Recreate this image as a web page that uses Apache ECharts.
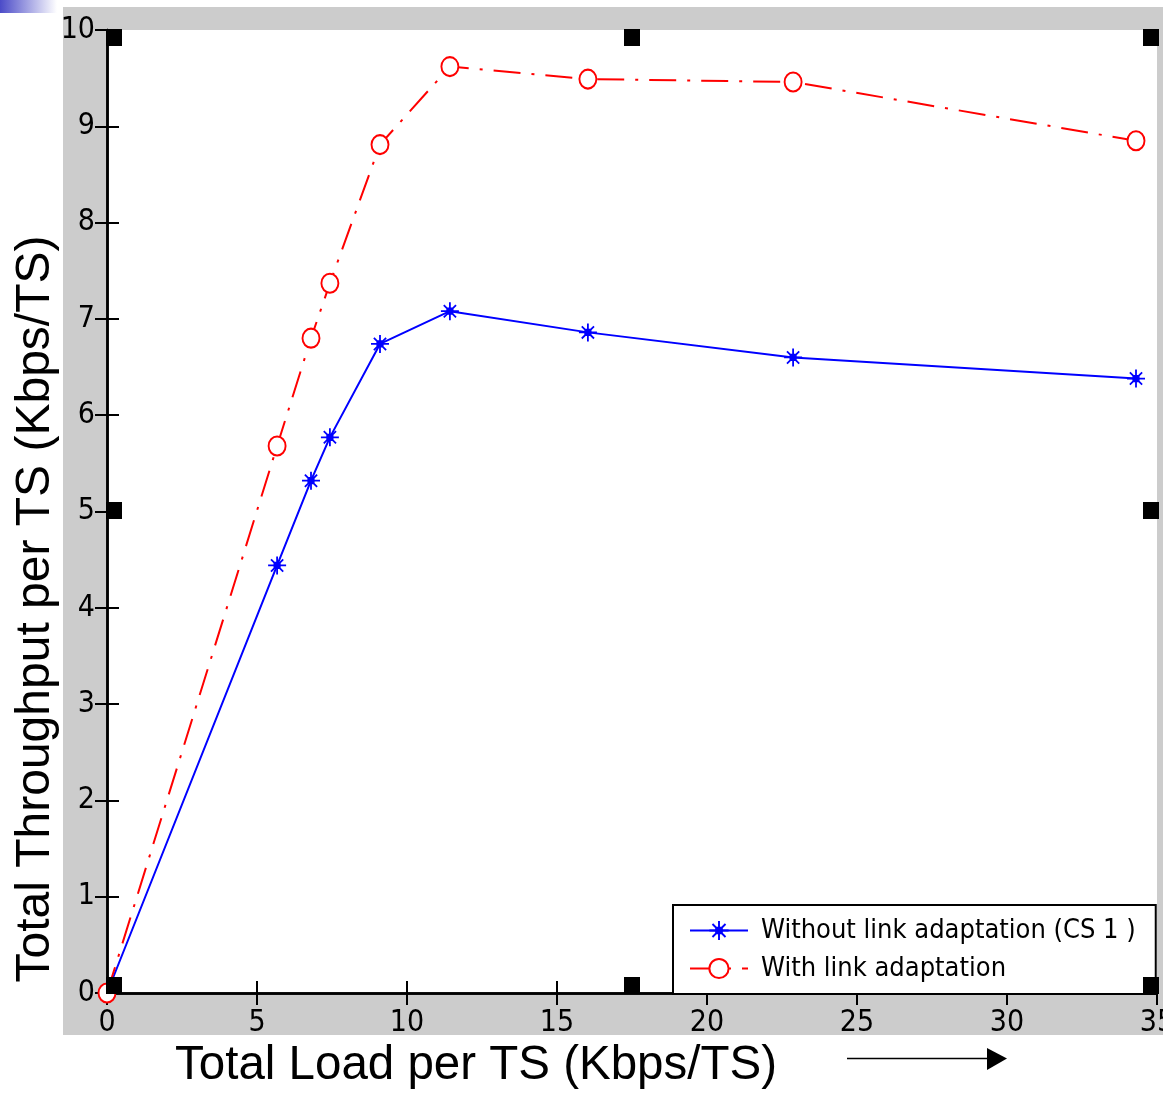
<!DOCTYPE html>
<html>
<head>
<meta charset="utf-8">
<script src="https://cdn.jsdelivr.net/npm/echarts@6/dist/echarts.min.js"></script>
<style>html,body{margin:0;padding:0;background:#fff;}#c{width:1163px;height:1093px;}</style>
</head>
<body>
<div id="c"></div>
<script>
var loads = [0, 5.67, 6.8, 7.43, 9.1, 11.43, 16.03, 22.87, 34.3];
var withoutLA = [0, 4.44, 5.32, 5.77, 6.74, 7.08, 6.86, 6.60, 6.38];
var withLA = [0, 5.68, 6.80, 7.37, 8.81, 9.62, 9.49, 9.46, 8.85];
var seriesNames = ['Without link adaptation (CS 1 )', 'With link adaptation'];
var xTitle = 'Total Load per TS (Kbps/TS)';
var yTitle = 'Total Throughput per TS (Kbps/TS)';

function pairs(xs, ys) { return xs.map(function (x, i) { return [x, ys[i]]; }); }

var tickFont = '"Liberation Sans Narrow", "DejaVu Sans Condensed", "Liberation Sans", sans-serif';
var asterisk = 'path://M0 9H20V11H0Z M9 0H11V20H9Z M2.5 3.9L3.9 2.5L17.5 16.1L16.1 17.5Z M16.1 2.5L17.5 3.9L3.9 17.5L2.5 16.1Z M6 6H14V14H6Z';

var chart = echarts.init(document.getElementById('c'));
var handles = [[106,29],[624,29],[1143,29],[106,502],[1143,502],[106,977],[624,977],[1143,977]];
var graphics = [
  {type:'rect', z:-10, shape:{x:63,y:7,width:1100,height:1028}, style:{fill:'#cccccc'}},
  {type:'rect', z:-9, shape:{x:107,y:30,width:1050,height:963}, style:{fill:'#ffffff'}},
  {type:'rect', shape:{x:0,y:0,width:57,height:13}, style:{fill:new echarts.graphic.LinearGradient(0,0,1,0,[{offset:0,color:'#4b4bc8'},{offset:1,color:'#ffffff'}])}},
  {type:'text', style:{text:xTitle, x:476, y:1066, textAlign:'center', textVerticalAlign:'middle', font:'47.5px "Liberation Sans", Arial, sans-serif', fill:'#000'}},
  {type:'text', rotation:Math.PI/2, x:36, y:609, style:{text:yTitle, x:0, y:0, textAlign:'center', textVerticalAlign:'middle', font:'48px "Liberation Sans", Arial, sans-serif', fill:'#000'}},
  {type:'line', shape:{x1:847,y1:1058.5,x2:990,y2:1058.5}, style:{stroke:'#000', lineWidth:1.5}},
  {type:'polygon', shape:{points:[[987,1048],[1007,1058.5],[987,1070]]}, style:{fill:'#000'}}
];
handles.forEach(function (h) {
  graphics.push({type:'rect', z:100, shape:{x:h[0], y:h[1], width:16, height:17}, style:{fill:'#000'}});
});

var axisCommon = {
  type:'value', min:0,
  axisLine:{show:true, lineStyle:{color:'#000', width:2.5}},
  axisTick:{show:true, inside:true, length:12, lineStyle:{color:'#000', width:2}},
  splitLine:{show:false}
};

chart.setOption({
  animation:false,
  backgroundColor:'transparent',
  grid:{left:107, top:30, right:6, bottom:100, containLabel:false, outerBoundsMode:'none'},
  xAxis:[
    Object.assign({}, axisCommon, {position:'bottom', max:35, interval:5,
      axisLabel:{show:true, margin:15, color:'#000', fontFamily:tickFont, fontSize:30, showMaxLabel:true}}),
    Object.assign({}, axisCommon, {position:'top', max:35, interval:5, axisLabel:{show:false}})
  ],
  yAxis:[
    Object.assign({}, axisCommon, {position:'left', max:10, interval:1,
      axisLabel:{show:true, margin:12, color:'#000', fontFamily:tickFont, fontSize:30}}),
    Object.assign({}, axisCommon, {position:'right', max:10, interval:1, axisLabel:{show:false}})
  ],
  legend:{
    left:673, top:905, orient:'vertical',
    backgroundColor:'#fff', borderColor:'#000', borderWidth:2, borderRadius:0,
    padding:[12,20,12,16], itemGap:11, itemWidth:58, itemHeight:24,
    textStyle:{color:'#000', fontFamily:tickFont, fontSize:27, padding:[0,0,0,8]},
    data:seriesNames
  },
  series:[
    {name:seriesNames[0], type:'line', data:pairs(loads, withoutLA),
     symbol:asterisk, symbolSize:18, showAllSymbol:true,
     lineStyle:{color:'#0000ff', width:2}, itemStyle:{color:'#0000ff'}},
    {name:seriesNames[1], type:'line', data:pairs(loads, withLA),
     symbol:'emptyCircle', symbolSize:[17,19], showAllSymbol:true,
     lineStyle:{color:'#ff0000', width:2, type:[27,11,3,11]},
     itemStyle:{color:'#ff0000', borderColor:'#ff0000', borderWidth:2}}
  ],
  graphic:graphics
});
</script>
</body>
</html>
